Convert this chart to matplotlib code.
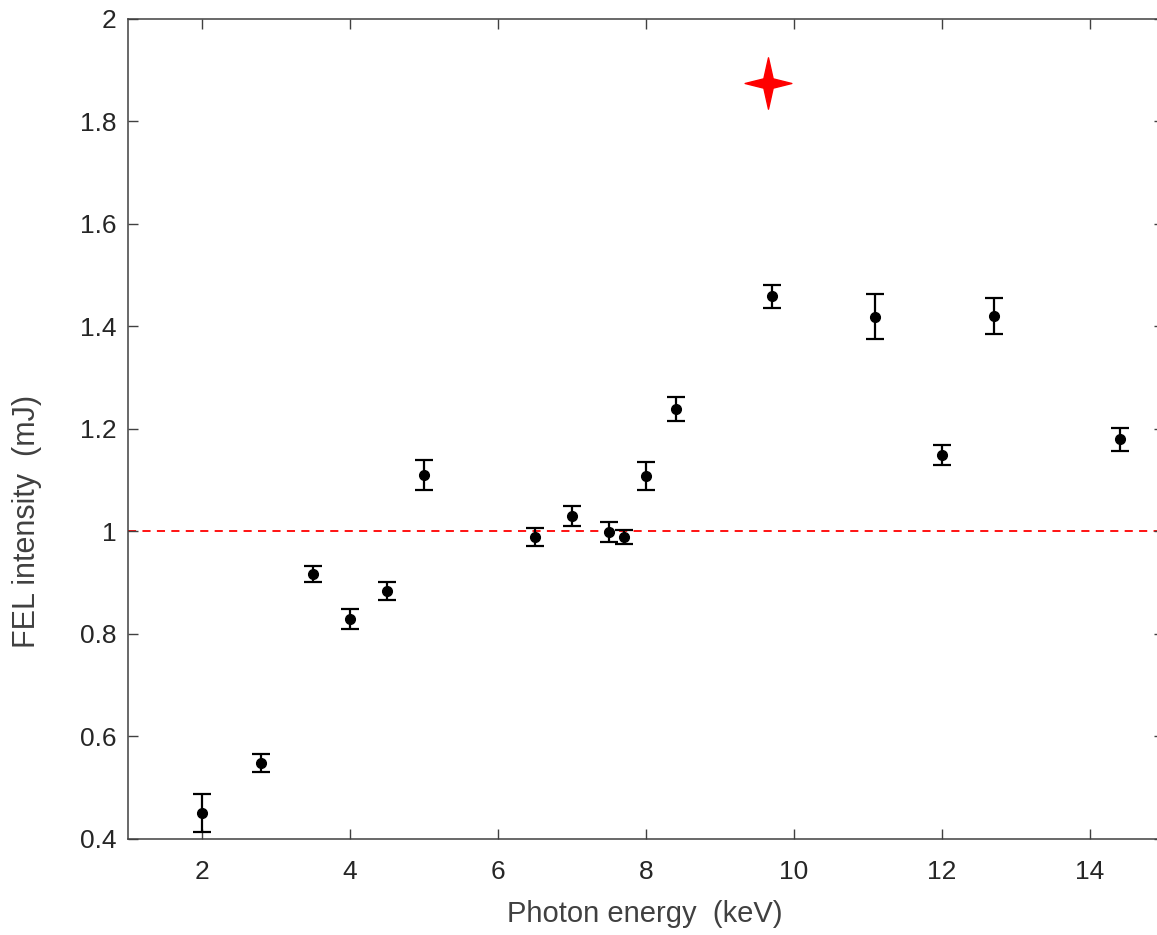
import numpy as np
import matplotlib
matplotlib.use('Agg')
import matplotlib.pyplot as plt
from matplotlib.path import Path
from matplotlib.ticker import FormatStrFormatter

# photon energy (keV), FEL intensity (mJ) and its error
energia = [2.0, 2.8, 3.5, 4.0, 4.5, 5.0, 6.5, 7.0, 7.5, 7.7, 8.0, 8.4, 9.7, 11.1, 12.0, 12.7, 14.4]
intensidade = [0.45, 0.548, 0.917, 0.829, 0.884, 1.110, 0.989, 1.030, 0.999, 0.989, 1.108, 1.239, 1.459, 1.419, 1.149, 1.420, 1.180]
erro = [0.037, 0.018, 0.016, 0.020, 0.018, 0.030, 0.018, 0.020, 0.020, 0.014, 0.027, 0.024, 0.022, 0.044, 0.020, 0.035, 0.022]

# destaque (estrela vermelha)
estrela_x = [9.65]
estrela_y = [1.875]

referencia = 1.0

xticks = [2, 4, 6, 8, 10, 12, 14]
yticks = [0.4, 0.6, 0.8, 1.0, 1.2, 1.4, 1.6, 1.8, 2.0]

plt.rcParams['font.family'] = ['Liberation Sans', 'DejaVu Sans']
cor_eixo = '#404040'

fig = plt.figure(figsize=(11.57, 9.35), dpi=100)
ax = fig.add_axes([0.1106, 0.1027, 0.8954, 0.877])

# estrela de 4 pontas
r = 0.2
verts = [(0, 1.1), (r, r), (1, 0), (r, -r), (0, -1.1), (-r, -r), (-1, 0), (-r, r), (0, 1.1)]
codes = [Path.MOVETO] + [Path.LINETO] * 7 + [Path.CLOSEPOLY]
estrela = Path(verts, codes)

ax.axhline(referencia, color='#ff0000', lw=1.3, linestyle=(0, (4.5, 3.5)), zorder=1)
ax.errorbar(energia, intensidade, yerr=erro, fmt='o', color='black', ms=7,
            elinewidth=1.6, capsize=6.5, capthick=1.6, zorder=3)
ax.plot(estrela_x, estrela_y, marker=estrela, color='#ff0000', ms=37, ls='none', zorder=4)

ax.set_xlim(1, 15)
ax.set_ylim(0.4, 2.0)
ax.set_xticks(xticks)
ax.set_yticks(yticks)
ax.yaxis.set_major_formatter(FormatStrFormatter('%g'))

ax.tick_params(direction='in', top=True, right=True, length=7, width=1,
               color=cor_eixo, labelcolor='#262626', labelsize=19)
ax.tick_params(axis='x', pad=15)
ax.tick_params(axis='y', pad=8)
for s in ax.spines.values():
    s.set_color(cor_eixo)
    s.set_linewidth(1.1)

ax.set_xlabel('Photon energy  (keV)', fontsize=21, color='#404040')
ax.set_ylabel('FEL intensity  (mJ)', fontsize=22, color='#404040')
ax.xaxis.set_label_coords(0.4985, -0.075)
ax.yaxis.set_label_coords(-0.083, 0.387)

fig.savefig('out.png', dpi=100)
